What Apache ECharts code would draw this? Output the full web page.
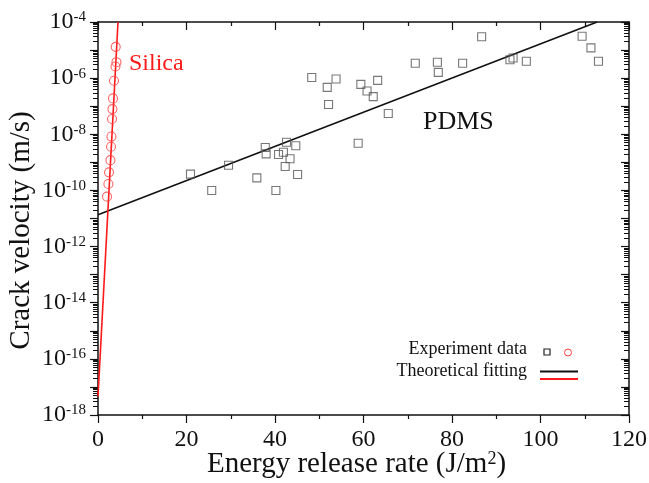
<!DOCTYPE html>
<html>
<head>
<meta charset="utf-8">
<script src="https://cdn.jsdelivr.net/npm/echarts@6/dist/echarts.min.js"></script>
<style>html,body{margin:0;padding:0;background:#fff;}#c{width:649px;height:483px;}</style>
</head>
<body>
<div id="c"></div>
<script>
// ---- data (energy release rate in J/m^2, crack velocity in m/s) ----
const pdmsEnergy = [20.9, 25.7, 29.5, 35.9, 37.8, 38.0, 40.2, 40.8, 41.9, 42.6, 42.3, 43.4, 44.7, 45.1,
  48.3, 51.8, 53.8, 52.1, 58.8, 59.4, 60.8, 62.2, 63.2, 65.6, 71.7, 76.7, 76.9, 82.4, 86.7,
  93.1, 93.8, 96.8, 109.4, 111.4, 113.1];
const pdmsVelocity = [3.8e-10, 1.0e-10, 7.9e-10, 2.8e-10, 3.4e-9, 2.0e-9, 1.0e-10, 1.9e-9, 2.3e-9, 5.2e-9, 7.1e-10, 1.35e-9, 3.9e-9, 3.7e-10,
  1.05e-6, 4.7e-7, 9.3e-7, 1.15e-7, 4.8e-9, 6.0e-7, 3.5e-7, 2.2e-7, 8.3e-7, 5.5e-8, 3.4e-6, 3.7e-6, 1.6e-6, 3.4e-6, 3.0e-5,
  4.5e-6, 5.2e-6, 4.0e-6, 3.1e-5, 1.2e-5, 4.0e-6];
const silicaEnergy = [4.0, 4.16, 3.94, 3.62, 3.39, 3.26, 3.17, 3.03, 2.94, 2.81, 2.49, 2.35, 2.04];
const silicaVelocity = [1.3e-5, 3.7e-6, 2.6e-6, 8.1e-7, 1.9e-7, 7.9e-8, 3.5e-8, 8.3e-9, 3.6e-9, 1.2e-9, 4.4e-10, 1.7e-10, 6.0e-11];
const pdmsFitEnergy = [0, 112.8];
const pdmsFitVelocity = [1.35e-11, 1e-4];
const silicaFitEnergy = [0, 4.52];
const silicaFitVelocity = [4.6e-18, 1e-4];
const xTicks = [0, 20, 40, 60, 80, 100, 120];
const yDecadeMin = -18, yDecadeMax = -4; // 10^-18 ... 10^-4

// ---- helpers ----
const FONT = 'Liberation Serif';
const INK = '#111';
const pairs = (xs, ys) => xs.map((x, i) => [x, Math.log10(ys[i])]);
const minorLog = [];
for (let n = yDecadeMin; n < yDecadeMax; n++) for (let k = 2; k <= 9; k++) minorLog.push(n + Math.log10(k));

const axisLine = { show: true, onZero: false, lineStyle: { color: INK, width: 1.5 } };
const baseY = { type: 'value', min: yDecadeMin, max: yDecadeMax, interval: 1, splitLine: { show: false } };
const majorTick = inside => ({ show: true, inside, length: 8, lineStyle: { color: INK, width: 1.2 } });
const minorTickY = inside => ({ show: true, inside, length: 5, customValues: minorLog, lineStyle: { color: INK, width: 1 } });

const chart = echarts.init(document.getElementById('c'), null, { renderer: 'canvas' });
chart.setOption({
  animation: false,
  backgroundColor: '#fff',
  grid: { left: 98, right: 20, top: 22, bottom: 68, containLabel: false, outerBoundsMode: 'none' },
  xAxis: [
    { type: 'value', position: 'bottom', min: xTicks[0], max: xTicks[xTicks.length - 1], interval: 20,
      axisLine, splitLine: { show: false },
      axisTick: majorTick(false),
      minorTick: { show: true, splitNumber: 2, length: 4, lineStyle: { color: INK, width: 1.2 } },
      axisLabel: { fontFamily: FONT, fontSize: 24, color: INK, margin: 13 },
      name: 'Energy release rate (J/m{s|2})', nameLocation: 'middle', nameGap: 35, nameMoveOverlap: false,
      nameTextStyle: { fontFamily: FONT, fontSize: 29, color: INK, padding: [0, 14, 0, 0],
        rich: { s: { fontFamily: FONT, fontSize: 18, verticalAlign: 'top', color: INK } } } },
    { type: 'value', position: 'top', min: 0, max: 120, interval: 20,
      axisLine, splitLine: { show: false }, axisLabel: { show: false },
      axisTick: majorTick(true),
      minorTick: { show: true, splitNumber: 2, length: 4, lineStyle: { color: INK, width: 1.2 } } }
  ],
  yAxis: [
    Object.assign({}, baseY, { position: 'left', axisLine,
      axisTick: majorTick(false),
      axisLabel: { margin: 12, color: INK,
        formatter: v => (Math.round(v) % 2 === 0 ? '{b|10}{s|' + v + '}' : ''),
        rich: { b: { fontFamily: FONT, fontSize: 24, color: INK },
                s: { fontFamily: FONT, fontSize: 15, color: INK, verticalAlign: 'top' } } },
      name: 'Crack velocity (m/s)', nameLocation: 'middle', nameGap: 62, nameRotate: 90, nameMoveOverlap: false,
      nameTextStyle: { fontFamily: FONT, fontSize: 29, color: INK, padding: [0, 24, 0, 0] } }),
    Object.assign({}, baseY, { position: 'left', axisLine: { show: false, onZero: false }, axisLabel: { show: false },
      axisTick: minorTickY(false) }),
    Object.assign({}, baseY, { position: 'right', axisLine, axisLabel: { show: false },
      axisTick: majorTick(true) }),
    Object.assign({}, baseY, { position: 'right', axisLine: { show: false, onZero: false }, axisLabel: { show: false },
      axisTick: minorTickY(true) })
  ],
  series: [
    { name: 'PDMS fit', type: 'line', data: pairs(pdmsFitEnergy, pdmsFitVelocity), showSymbol: false,
      lineStyle: { color: INK, width: 1.6 }, silent: true, z: 2 },
    { name: 'Silica fit', type: 'line', data: pairs(silicaFitEnergy, silicaFitVelocity), showSymbol: false,
      lineStyle: { color: '#ff1a1a', width: 1.6 }, silent: true, z: 2 },
    { name: 'PDMS', type: 'scatter', data: pairs(pdmsEnergy, pdmsVelocity), symbol: 'rect', symbolSize: 8,
      itemStyle: { color: 'rgba(0,0,0,0)', borderColor: '#555', borderWidth: 1.1 }, z: 3 },
    { name: 'Silica', type: 'scatter', data: pairs(silicaEnergy, silicaVelocity), symbol: 'circle', symbolSize: 9,
      itemStyle: { color: 'rgba(0,0,0,0)', borderColor: '#ff4040', borderWidth: 1.1 }, z: 3 }
  ],
  graphic: [
    { type: 'text', left: 129, top: 52, style: { text: 'Silica', fontFamily: FONT, fontSize: 24, fill: '#ff1a1a' } },
    { type: 'text', left: 423, top: 109, style: { text: 'PDMS', fontFamily: FONT, fontSize: 26, fill: INK } },
    { type: 'text', right: 122, top: 340, style: { text: 'Experiment data', fontFamily: FONT, fontSize: 18, fill: INK } },
    { type: 'text', right: 122, top: 362, style: { text: 'Theoretical fitting', fontFamily: FONT, fontSize: 18, fill: INK } },
    { type: 'rect', shape: { x: 544, y: 349, width: 6, height: 6 }, style: { fill: 'none', stroke: '#222', lineWidth: 1.2 } },
    { type: 'circle', shape: { cx: 568, cy: 352.5, r: 3.5 }, style: { fill: 'none', stroke: '#ff4040', lineWidth: 1 } },
    { type: 'line', shape: { x1: 540, y1: 371.5, x2: 578, y2: 371.5 }, style: { stroke: INK, lineWidth: 1.8 } },
    { type: 'line', shape: { x1: 540, y1: 379, x2: 578, y2: 379 }, style: { stroke: '#ff1a1a', lineWidth: 1.8 } }
  ]
});
</script>
</body>
</html>
